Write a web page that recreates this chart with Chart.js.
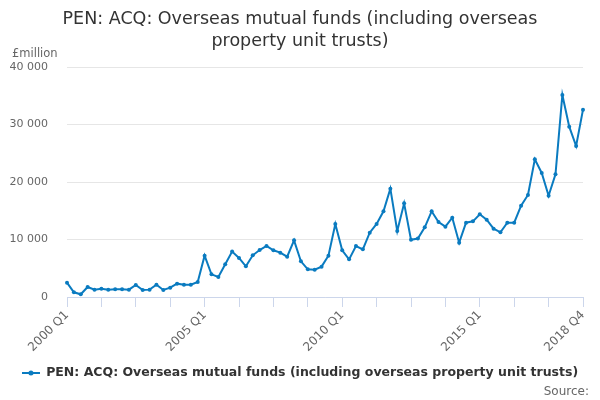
<!DOCTYPE html>
<html><head><meta charset="utf-8">
<script src="https://cdn.jsdelivr.net/npm/chart.js@4.4.1/dist/chart.umd.min.js"></script>
<style>html,body{margin:0;padding:0;background:#fff}</style>
</head><body>
<canvas id="c" width="600" height="400" style="width:600px;height:400px"></canvas>
<script>
const years = [2000,2001,2002,2003,2004,2005,2006,2007,2008,2009,2010,2011,2012,2013,2014,2015,2016,2017,2018];
const quarterNames = ['Q1','Q2','Q3','Q4'];
const categories = [];
years.forEach(y => quarterNames.forEach(q => categories.push(y + ' ' + q)));

const seriesName = 'PEN: ACQ: Overseas mutual funds (including overseas property unit trusts)';
const values = [
  2490, 820, 470, 1740, 1280, 1450, 1280, 1340, 1340, 1280,
  2090, 1220, 1280, 2140, 1220, 1620, 2320, 2140, 2140, 2610,
  7190, 3940, 3480, 5680, 7900, 6800, 5330, 7250, 8170, 8870,
  8120, 7710, 7010, 9850, 6200, 4810, 4760, 5280, 7190, 12700,
  8120, 6550, 8870, 8290, 11190, 12700, 14900, 18840, 11480, 16290,
  9950, 10170, 12120, 14900, 13040, 12230, 13800, 9450, 12930, 13160,
  14380, 13450, 11880, 11250, 12930, 12930, 15880, 17740, 23940, 21570,
  17620, 21330, 35130, 29620, 26260, 32580
];
const labelledTicks = ['2000 Q1','2005 Q1','2010 Q1','2015 Q1','2018 Q4'];
const yTicks = [0, 10000, 20000, 30000, 40000];

const lineColor = '#0a7bc0';
const sym = document.createElement('canvas');
sym.width = 18; sym.height = 6;
(function(){
  const g = sym.getContext('2d');
  g.strokeStyle = lineColor; g.lineWidth = 2;
  g.beginPath(); g.moveTo(0,3); g.lineTo(18,3); g.stroke();
  g.fillStyle = lineColor; g.beginPath(); g.arc(9,3,2.5,0,Math.PI*2); g.fill();
})();

const extraText = {
  id: 'extraText',
  afterDraw(chart) {
    const ctx = chart.ctx;
    ctx.save();
    ctx.fillStyle = '#666';
    ctx.textBaseline = 'alphabetic';
    ctx.textAlign = 'left';
    ctx.font = '11.5px "DejaVu Sans"';
    ctx.fillText('£million', 12, 57);
    ctx.font = '12px "DejaVu Sans"';
    ctx.textAlign = 'right';
    ctx.fillText('Source:', 589, 395);
    ctx.restore();
  }
};

new Chart(document.getElementById('c'), {
  type: 'line',
  data: {
    labels: categories,
    datasets: [{
      label: seriesName,
      data: values,
      borderColor: lineColor,
      backgroundColor: lineColor,
      borderWidth: 2,
      pointRadius: 2,
      pointHoverRadius: 2,
      pointBorderWidth: 0,
      tension: 0,
      yAxisID: 'y'
    }]
  },
  options: {
    responsive: false,
    animation: false,
    devicePixelRatio: 1,
    layout: { padding: { left: 0, right: 0, top: 0, bottom: 10.75 } },
    plugins: {
      tooltip: { enabled: false },
      title: {
        display: true,
        text: ['PEN: ACQ: Overseas mutual funds (including overseas', 'property unit trusts)'],
        color: '#333',
        font: { family: 'DejaVu Sans', size: 17.5, weight: 'normal', lineHeight: 1.25 },
        padding: { top: 9, bottom: 14.25 }
      },
      legend: {
        position: 'bottom',
        labels: {
          usePointStyle: true,
          pointStyle: sym,
          pointStyleWidth: 18,
          color: '#333',
          font: { family: 'DejaVu Sans', size: 12.5, weight: 'bold' },
          padding: 10
        }
      }
    },
    scales: {
      x: {
        type: 'category',
        offset: false,
        afterBuildTicks(scale) {
          scale.ticks = scale.ticks.filter(t => t.value % 5 === 0 || t.value === categories.length - 1);
        },
        afterFit(scale) { scale.height = 59.75; },
        ticks: {
          autoSkip: false,
          maxRotation: 45,
          minRotation: 45,
          color: '#666',
          font: { family: 'DejaVu Sans', size: 12 },
          padding: 1,
          callback(value) {
            const lab = categories[value];
            return labelledTicks.includes(lab) ? lab : '';
          }
        },
        grid: {
          drawOnChartArea: false,
          drawTicks: true,
          tickLength: 10,
          tickColor: '#ccd6eb',
          tickWidth: 1
        },
        border: { display: true, color: '#ccd6eb', width: 1 }
      },
      y: {
        position: 'left',
        min: 0,
        max: 40000,
        afterBuildTicks(scale) { scale.ticks = yTicks.map(v => ({ value: v })); },
        afterFit(scale) { scale.width = 67; },
        ticks: {
          color: '#666',
          font: { family: 'DejaVu Sans', size: 11 },
          padding: 19,
          callback(v) { return String(v).replace(/\B(?=(\d{3})+(?!\d))/g, ' '); }
        },
        grid: { color: '#e6e6e6', drawTicks: false, lineWidth: 1 },
        border: { display: false }
      },
      yRightSpace: {
        position: 'right',
        display: true,
        min: 0,
        max: 40000,
        afterFit(scale) { scale.width = 17; },
        ticks: { display: false },
        grid: { display: false, drawOnChartArea: false, drawTicks: false },
        border: { display: false }
      }
    }
  },
  plugins: [extraText]
});
</script>
</body></html>
